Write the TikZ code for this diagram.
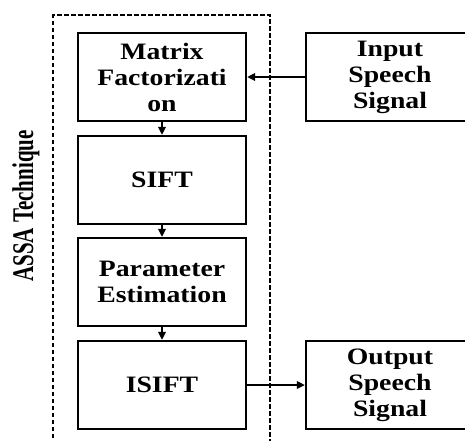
\documentclass[tikz,border=0pt]{standalone}
\usepackage{fontspec}
\usepackage{tikz}
\usetikzlibrary{arrows.meta}
\setmainfont{Liberation Serif}
\newfontfamily\boxfont[FakeStretch=1.18]{Liberation Serif}
\newfontfamily\sidefont[FakeStretch=0.7]{Liberation Serif}

\tikzset{
  blockbox/.style={draw,line width=2.3pt,minimum width=168pt,minimum height=88pt,
    inner sep=0pt,align=center,font=\boxfont\bfseries\fontsize{23.5}{26}\selectfont},
  flow/.style={line width=1.7pt,-{Triangle[length=8pt,width=7.5pt]}},
  frame/.style={line width=2.4pt,dash pattern=on 4.5pt off 2.5pt}
}

\begin{document}
\begin{tikzpicture}[x=1pt,y=-1pt]
\useasboundingbox (0,0) rectangle (465,440);
% technique blocks
\node[blockbox] (mf) at (162,77) {Matrix\\Factorizati\\on};
\node[blockbox] (sift) at (162,180) {SIFT};
\node[blockbox] (param) at (162,282) {Parameter\\Estimation};
\node[blockbox] (isift) at (162,385) {ISIFT};
% signals
\node[blockbox] (inp) at (390,77) {Input\\Speech\\Signal};
\node[blockbox] (outp) at (390,385) {Output\\Speech\\Signal};
% frame
\draw[frame] (53,445) -- (53,15) -- (270,15) -- (270,445);
\node[rotate=90,font=\sidefont\bfseries\fontsize{30}{31}\selectfont] (lbl) at (26,206) {ASSA Technique};
% arrows
\draw[flow] (mf) -- (sift);
\draw[flow] (sift) -- (param);
\draw[flow] (param) -- (isift);
\draw[flow] (inp) -- (mf);
\draw[flow] (isift) -- (outp);
\end{tikzpicture}
\end{document}
